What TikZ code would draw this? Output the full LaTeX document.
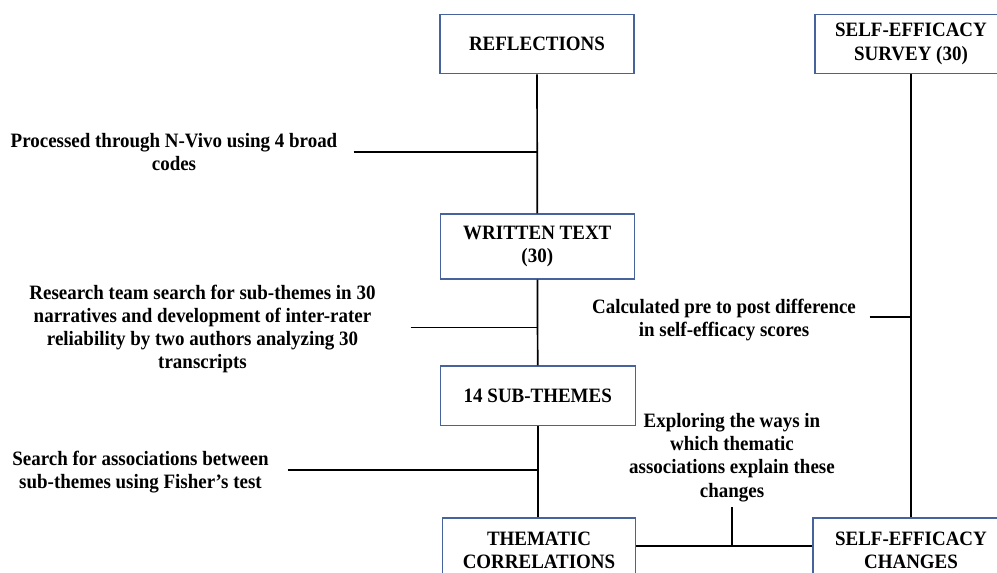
\documentclass[tikz,border=0pt]{standalone}
\usepackage{fontspec}
\setmainfont[FakeStretch=0.93]{Liberation Serif}
\definecolor{boxblue}{RGB}{70,100,155}
\newcommand{\mybf}{\fontsize{20.4}{23.3}\selectfont\bfseries}
\begin{document}
\begin{tikzpicture}[x=1pt,y=-1pt,
  box/.style={draw=boxblue, line width=1.2pt, align=center, inner sep=0pt, font=\mybf},
  lab/.style={align=center, inner sep=0pt, font=\mybf},
  conn/.style={draw=black, line width=1.7pt}]
\useasboundingbox (0,0) rectangle (997,573);
% boxes
\node[box, minimum width=194pt, minimum height=59.4pt] (refl) at (537,44) {REFLECTIONS};
\node[box, minimum width=194pt, minimum height=65pt] (written) at (537.3,246.5) {WRITTEN TEXT\\(30)};
\node[box, minimum width=195pt, minimum height=59.7pt] (sub) at (537.8,395.9) {14 SUB-THEMES};
\node[box, minimum width=193pt, minimum height=65pt] (them) at (539,550.5) {THEMATIC\\CORRELATIONS};
\node[box, minimum width=192pt, minimum height=59pt] (survey) at (911,43.8) {SELF-EFFICACY\\SURVEY (30)};
\node[box, minimum width=196pt, minimum height=65pt] (changes) at (911,550.5) {SELF-EFFICACY\\CHANGES};
% labels
\node[lab] (l1) at (174,152) {Processed through N-Vivo using 4 broad\\codes};
\node[lab] (l2) at (202.5,329) {Research team search for sub-themes in 30\\narratives and development of inter-rater\\reliability by two authors analyzing 30\\transcripts};
\node[lab] (l3) at (140.5,472) {Search for associations between\\sub-themes using Fisher’s test};
\node[lab] (l4) at (724,320) {Calculated pre to post difference\\in self-efficacy scores};
\node[lab] (l5) at (732,457.5) {Exploring the ways in\\which thematic\\associations explain these\\changes};
% coordinates
\coordinate (j1) at (537,151.7);
\coordinate (e1) at (353.6,151.7);
\coordinate (j2) at (537,327.5);
\coordinate (e2) at (410.7,327.5);
\coordinate (j3) at (537,470);
\coordinate (e3) at (287.5,470);
\coordinate (jr) at (911,316.7);
\coordinate (er) at (869.5,316.7);
\coordinate (hb) at (732,545.7);
\coordinate (ht) at (732,507.3);
% connectors
\draw[conn] (refl) -- (written);
\draw[conn] (written) -- (sub);
\draw[conn] (sub.south) -- (sub.south |- them.north);
\draw[conn] (survey) -- (changes);
\draw[conn] (e1) -- (j1);
\draw[conn] (e2) -- (j2);
\draw[conn] (e3) -- (j3);
\draw[conn] (er) -- (jr);
\draw[conn] (them.east |- hb) -- (changes.west |- hb);
\draw[conn] (ht) -- (hb);
\end{tikzpicture}
\end{document}
